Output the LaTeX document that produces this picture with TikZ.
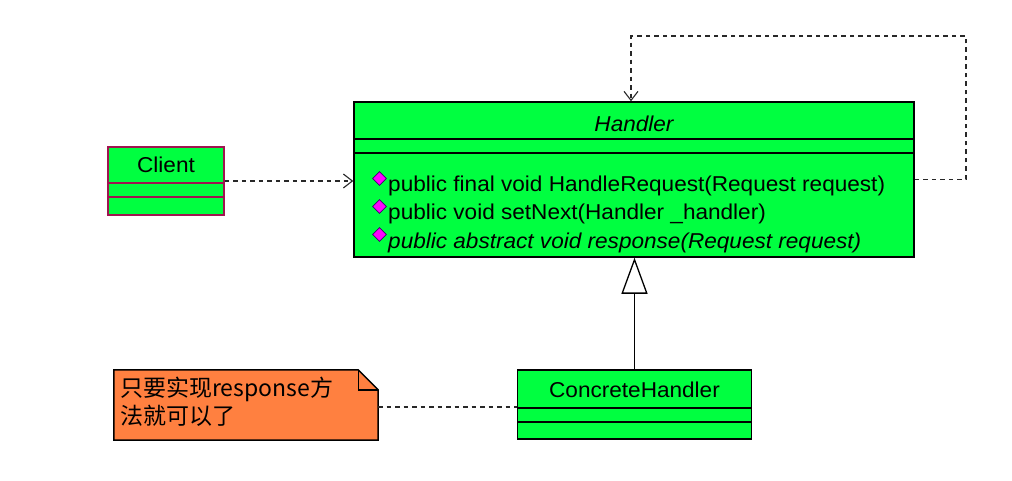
\documentclass[tikz,border=0pt]{standalone}
\usepackage{fontspec}
\setmainfont{Liberation Sans}[FakeStretch=1.05]
\newfontfamily\cjk{Noto Sans CJK SC}
\usetikzlibrary{arrows.meta,shapes.geometric,calc}
\definecolor{umlgreen}{RGB}{0,255,64}
\definecolor{noteorange}{RGB}{255,128,64}
\definecolor{clientborder}{RGB}{160,20,80}
\definecolor{opmark}{RGB}{255,0,255}
\definecolor{opedge}{RGB}{60,0,110}
\definecolor{linkgray}{RGB}{40,40,40}
\begin{document}
\begin{tikzpicture}[x=1pt,y=-1pt,
  classbox/.style={draw=black,fill=umlgreen,line width=1.5pt,inner sep=0pt},
  sepline/.style={line width=1.4pt},
  lbl/.style={inner sep=0pt,font=\fontsize{21.5}{26}\selectfont},
  opdot/.style={diamond,fill=opmark,draw=opedge,line width=0.8pt,inner sep=0pt,minimum width=14pt,minimum height=14pt},
  deplink/.style={draw=linkgray,line width=1.5pt,dash pattern=on 4.5pt off 4pt},
  openhead/.style={-{Straight Barb[length=9pt,width=14pt,line width=1.1pt]}},
  genhead/.style={-{Triangle[open,length=36pt,width=26pt,line width=1.3pt]}}
]
\useasboundingbox[fill=white] (0,0) rectangle (1012,481);

% Handler (abstract class)
\node[classbox,minimum width=560pt,minimum height=155pt] (handler) at (634,179.5) {};
\draw[sepline] (354,139) -- (914,139);
\draw[sepline] (354,153) -- (914,153);
\node[lbl,font=\fontsize{21.5}{26}\selectfont\itshape] (hname) at (634,124) {Handler};
\node[opdot] (op1) at (379.5,178.5) {};
\node[opdot] (op2) at (379.5,206.5) {};
\node[opdot] (op3) at (379.5,234.5) {};
\node[lbl,anchor=base west] (m1) at (388,192) {public final void HandleRequest(Request request)};
\node[lbl,anchor=base west] (m2) at (388,220) {public void setNext(Handler \_handler)};
\node[lbl,anchor=base west,font=\fontsize{21.5}{26}\selectfont\itshape] (m3) at (388,248) {public abstract void response(Request request)};

% Client
\node[classbox,draw=clientborder,minimum width=116pt,minimum height=68pt] (client) at (166,181) {};
\draw[sepline,clientborder] (108,183) -- (224,183);
\draw[sepline,clientborder] (108,197) -- (224,197);
\node[lbl] (cname) at (166,165) {Client};

% ConcreteHandler
\node[classbox,minimum width=234pt,minimum height=69pt] (concrete) at (634.5,404.5) {};
\draw[sepline] (517.5,408) -- (751.5,408);
\draw[sepline] (517.5,422) -- (751.5,422);
\node[lbl] (chname) at (634.5,390) {ConcreteHandler};

% Note with folded corner
\node[minimum width=264pt,minimum height=70pt,inner sep=0pt] (note) at (246,405) {};
\draw[fill=noteorange,line width=1.5pt]
  (note.north west) -- ($(note.north east)+(-20,0)$) -- ($(note.north east)+(0,20)$)
  -- (note.south east) -- (note.south west) -- cycle;
\draw[line width=1.4pt] ($(note.north east)+(-20,0)$) |- ($(note.north east)+(0,20)$);
\node[inner sep=0pt,anchor=north west,align=left,font=\cjk\fontsize{23}{28}\selectfont] (notetext) at (120,377)
  {只要实现response方\\法就可以了};

% Connectors
\draw[deplink,openhead] (client.east) -- (client.east -| handler.west);
\coordinate (loopright) at ($(handler.east)+(51,0)$);
\coordinate (looptop) at ($(handler.north)+(-3,-65)$);
\draw[deplink,openhead] (handler.east) -- (loopright) |- (looptop) -- (looptop |- handler.north);
\draw[line width=1.4pt,genhead] (concrete.north) -- (concrete.north |- handler.south);
\draw[deplink] (note.east |- 0,407) -- (concrete.west |- 0,407);
\end{tikzpicture}
\end{document}
